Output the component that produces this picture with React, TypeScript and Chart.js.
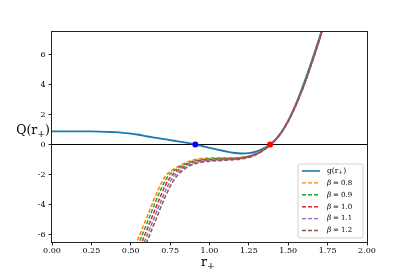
import { useEffect, useRef } from 'react';
import { Chart, registerables } from 'chart.js';

Chart.register(...registerables);

// r grid for g(r+)
const R_G = [0, 0.05, 0.1, 0.15, 0.2, 0.25, 0.3, 0.35, 0.4, 0.45, 0.5, 0.55, 0.6, 0.65, 0.7, 0.75, 0.8, 0.85, 0.9, 0.95, 1.0, 1.05, 1.1, 1.15, 1.2, 1.25, 1.3, 1.35, 1.4, 1.45, 1.5, 1.55, 1.6, 1.65, 1.7, 1.75, 1.8];
const G_VALUES = [0.88, 0.88, 0.88, 0.88, 0.87, 0.87, 0.86, 0.84, 0.82, 0.78, 0.72, 0.65, 0.55, 0.46, 0.38, 0.29, 0.21, 0.12, 0.02, -0.1, -0.22, -0.34, -0.45, -0.55, -0.6, -0.58, -0.46, -0.22, 0.12, 0.72, 1.6, 2.75, 4.1, 5.6, 7.2, 9.0, 11.0];

// r grid for Q(r+) at several beta
const R_Q = [0.5, 0.525, 0.55, 0.575, 0.6, 0.625, 0.65, 0.675, 0.7, 0.725, 0.75, 0.775, 0.8, 0.85, 0.9, 0.95, 1.0, 1.05, 1.1, 1.15, 1.2, 1.25, 1.3, 1.35, 1.4, 1.45, 1.5, 1.55, 1.6, 1.65, 1.7, 1.75];
const Q_B08 = [-7.5, -6.85, -6.2, -5.55, -4.9, -4.25, -3.6, -3.0, -2.45, -2.05, -1.8, -1.62, -1.47, -1.2, -1.03, -0.94, -0.9, -0.89, -0.89, -0.88, -0.85, -0.76, -0.58, -0.28, 0.15, 0.75, 1.6, 2.7, 4.0, 5.5, 7.1, 8.9];
const Q_B09 = [-7.9, -7.27, -6.62, -5.97, -5.32, -4.67, -4.0, -3.38, -2.8, -2.3, -1.97, -1.74, -1.57, -1.28, -1.1, -1.0, -0.96, -0.94, -0.93, -0.92, -0.88, -0.79, -0.6, -0.3, 0.13, 0.73, 1.58, 2.68, 3.98, 5.48, 7.08, 8.88];
const Q_B10 = [-8.3, -7.7, -7.05, -6.4, -5.75, -5.1, -4.45, -3.8, -3.18, -2.62, -2.2, -1.9, -1.7, -1.37, -1.17, -1.06, -1.01, -0.99, -0.97, -0.95, -0.91, -0.81, -0.62, -0.31, 0.11, 0.71, 1.56, 2.66, 3.96, 5.46, 7.06, 8.86];
const Q_B11 = [-8.75, -8.1, -7.45, -6.8, -6.15, -5.5, -4.85, -4.2, -3.58, -2.98, -2.48, -2.1, -1.84, -1.46, -1.24, -1.12, -1.06, -1.03, -1.01, -0.99, -0.94, -0.84, -0.64, -0.33, 0.1, 0.7, 1.55, 2.65, 3.95, 5.45, 7.05, 8.85];
const Q_B12 = [-9.2, -8.5, -7.85, -7.2, -6.55, -5.9, -5.25, -4.6, -3.95, -3.35, -2.8, -2.35, -2.02, -1.57, -1.32, -1.18, -1.11, -1.08, -1.05, -1.02, -0.97, -0.86, -0.66, -0.34, 0.09, 0.69, 1.54, 2.64, 3.94, 5.44, 7.04, 8.84];

const BETAS = ['0.8', '0.9', '1.0', '1.1', '1.2'];
const Q_SERIES = [Q_B08, Q_B09, Q_B10, Q_B11, Q_B12];
const Q_COLORS = ['#ff7f0e', '#2ca02c', '#d62728', '#9467bd', '#8c564b'];
const G_COLOR = '#1f77b4';

const ROOT_BLUE = [0.91];
const ROOT_RED = [1.385];

const X_TICKS = [0, 0.25, 0.5, 0.75, 1.0, 1.25, 1.5, 1.75, 2.0];
const Y_TICKS = [-6, -4, -2, 0, 2, 4, 6];

const SERIF = '"DejaVu Serif", serif';

function drawSubText(ctx: CanvasRenderingContext2D, parts: [string, boolean][], x: number, y: number, size: number, align: 'left' | 'right' | 'center', ratio = 0.75) {
  const subSize = size * ratio;
  let total = 0;
  for (const [t, sub] of parts) {
    ctx.font = `${sub ? subSize : size}px ${SERIF}`;
    total += ctx.measureText(t).width;
  }
  let cx = align === 'left' ? x : align === 'right' ? x - total : x - total / 2;
  ctx.textAlign = 'left';
  ctx.textBaseline = 'middle';
  for (const [t, sub] of parts) {
    ctx.font = `${sub ? subSize : size}px ${SERIF}`;
    ctx.fillText(t, cx, sub ? y + size * 0.25 : y);
    cx += ctx.measureText(t).width;
  }
}

const overlay = {
  id: 'overlay',
  afterDraw(chart: any) {
    const { ctx, chartArea } = chart;
    const { left, top, right, bottom } = chartArea;
    ctx.save();
    // frame
    ctx.strokeStyle = '#222';
    ctx.lineWidth = 1;
    ctx.strokeRect(Math.round(left) - 0.5, Math.round(top) - 0.5, Math.round(right - left) + 1, Math.round(bottom - top) + 1);
    ctx.fillStyle = '#000';
    // axis titles
    drawSubText(ctx, [['Q(r', false], ['+', true], [')', false]], left - 2, 131, 12.5, 'right');
    drawSubText(ctx, [['r', false], ['+', true]], 208, 263, 12.5, 'center');

    // legend
    const bx = 298, by = 164, bw = 65, bh = 74, rad = 2;
    ctx.beginPath();
    ctx.moveTo(bx + rad, by);
    ctx.lineTo(bx + bw - rad, by);
    ctx.quadraticCurveTo(bx + bw, by, bx + bw, by + rad);
    ctx.lineTo(bx + bw, by + bh - rad);
    ctx.quadraticCurveTo(bx + bw, by + bh, bx + bw - rad, by + bh);
    ctx.lineTo(bx + rad, by + bh);
    ctx.quadraticCurveTo(bx, by + bh, bx, by + bh - rad);
    ctx.lineTo(bx, by + rad);
    ctx.quadraticCurveTo(bx, by, bx + rad, by);
    ctx.closePath();
    ctx.fillStyle = 'rgba(255,255,255,0.8)';
    ctx.fill();
    ctx.strokeStyle = '#d0d0d0';
    ctx.lineWidth = 1;
    ctx.stroke();

    const rowY = (i: number) => 171 + i * 11.9;
    // g entry
    ctx.strokeStyle = G_COLOR;
    ctx.lineWidth = 1.6;
    ctx.setLineDash([]);
    ctx.beginPath();
    ctx.moveTo(302, rowY(0));
    ctx.lineTo(320, rowY(0));
    ctx.stroke();
    ctx.fillStyle = '#000';
    drawSubText(ctx, [['g(r', false], ['+', true], [')', false]], 327, rowY(0), 7.5, 'left', 0.8);

    BETAS.forEach((b, i) => {
      const y = rowY(i + 1);
      ctx.strokeStyle = Q_COLORS[i];
      ctx.lineWidth = 1.4;
      ctx.setLineDash([4, 2]);
      ctx.beginPath();
      ctx.moveTo(302, y);
      ctx.lineTo(320, y);
      ctx.stroke();
      ctx.setLineDash([]);
      ctx.fillStyle = '#000';
      ctx.textAlign = 'left';
      ctx.textBaseline = 'middle';
      ctx.font = `italic 7.3px ${SERIF}`;
      ctx.fillText('β', 327, y);
      ctx.font = `7px ${SERIF}`;
      ctx.fillText('=', 333, y);
      ctx.fillText(b, 341, y);
    });
    ctx.restore();
  },
};

export default function App() {
  const ref = useRef<HTMLCanvasElement | null>(null);

  useEffect(() => {
    document.body.style.margin = '0';
    if (!ref.current) return;
    const qSets = Q_SERIES.map((vals, i) => ({
      type: 'line' as const,
      label: `β = ${BETAS[i]}`,
      data: R_Q.map((r, j) => ({ x: r, y: vals[j] })),
      borderColor: Q_COLORS[i],
      borderWidth: 1.5,
      borderDash: [4, 2],
      pointRadius: 0,
      cubicInterpolationMode: 'monotone' as const,
      order: 5 - i,
    }));
    const chart = new Chart(ref.current, {
      type: 'line',
      data: {
        datasets: [
          {
            label: 'root1',
            data: ROOT_BLUE.map((r) => ({ x: r, y: 0 })),
            showLine: false,
            pointRadius: 3,
            pointBackgroundColor: '#0000ff',
            pointBorderColor: '#0000ff',
            borderWidth: 0,
            order: 0,
          },
          {
            label: 'root2',
            data: ROOT_RED.map((r) => ({ x: r, y: 0 })),
            showLine: false,
            pointRadius: 3,
            pointBackgroundColor: '#ff0000',
            pointBorderColor: '#ff0000',
            borderWidth: 0,
            order: 0,
          },
          ...qSets,
          {
            label: 'g(r+)',
            data: R_G.map((r, j) => ({ x: r, y: G_VALUES[j] })),
            borderColor: G_COLOR,
            borderWidth: 1.8,
            pointRadius: 0,
            cubicInterpolationMode: 'monotone',
            order: 6,
          },
          {
            label: 'zero',
            data: [{ x: 0, y: 0 }, { x: 2, y: 0 }],
            borderColor: '#000',
            borderWidth: 1,
            pointRadius: 0,
            order: 7,
          },
        ] as any,
      },
      options: {
        animation: false,
        responsive: false,
        devicePixelRatio: 1,
        layout: { padding: { left: 0, top: 32, right: 42, bottom: 0 } },
        plugins: { legend: { display: false }, tooltip: { enabled: false } },
        scales: {
          x: {
            type: 'linear',
            min: 0,
            max: 2,
            afterFit: (a: any) => { a.height = 30; },
            afterBuildTicks: (a: any) => { a.ticks = X_TICKS.map((v) => ({ value: v })); },
            grid: { drawOnChartArea: false, drawTicks: true, tickLength: 3.5, color: '#222' },
            border: { display: false },
            ticks: {
              padding: 1,
              color: '#000',
              font: { family: SERIF, size: 8 },
              maxRotation: 0,
              callback: (v: any) => Number(v).toFixed(2),
            },
          },
          y: {
            type: 'linear',
            min: -6.5,
            max: 7.5,
            afterFit: (a: any) => { a.width = 52; },
            afterBuildTicks: (a: any) => { a.ticks = Y_TICKS.map((v) => ({ value: v })); },
            grid: { drawOnChartArea: false, drawTicks: true, tickLength: 3.5, color: '#222' },
            border: { display: false },
            ticks: {
              padding: 3,
              color: '#000',
              font: { family: SERIF, size: 8 },
              callback: (v: any) => String(v),
            },
          },
        },
      },
      plugins: [overlay],
    });
    return () => chart.destroy();
  }, []);

  return <canvas ref={ref} width={409} height={272} style={{ display: 'block', width: 409, height: 272 }} />;
}
